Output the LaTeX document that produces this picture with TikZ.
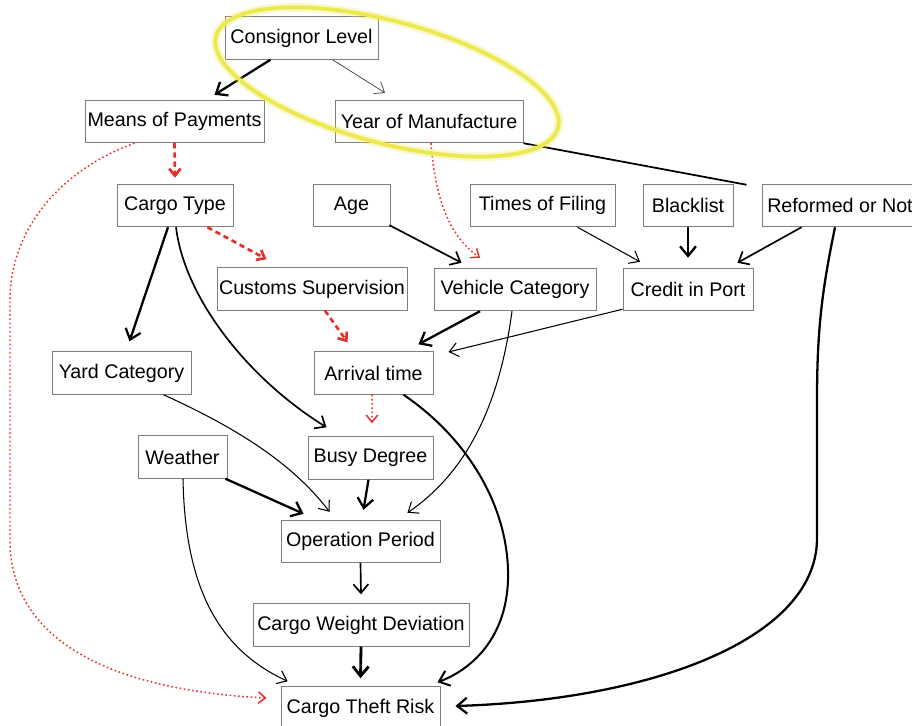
\documentclass[tikz,border=0pt]{standalone}
\usepackage{fontspec}
\setmainfont{Liberation Sans}
\usetikzlibrary{arrows.meta,calc}
\definecolor{boxline}{RGB}{125,125,125}
\definecolor{hotred}{RGB}{232,45,40}
\definecolor{marker}{RGB}{236,232,80}
\begin{document}
\begin{tikzpicture}[x=0.02cm,y=-0.02cm,
  box/.style={draw=boxline,line width=0.55pt,fill=white,rectangle,minimum height=0.85cm,
    inner xsep=1pt,inner ysep=0pt,font=\fontsize{11.2}{13}\selectfont},
  heavy/.style={line width=1.3pt,-{Straight Barb[length=5.5pt,width=9pt]}},
  medium/.style={line width=0.95pt,-{Straight Barb[length=5pt,width=8.5pt]}},
  light/.style={line width=0.6pt,-{Straight Barb[length=5pt,width=8pt]}},
  faint/.style={line width=0.45pt,draw=black!70,-{Straight Barb[length=5pt,width=8pt]}},
  reddash/.style={hotred,line width=1.5pt,dash pattern=on 3pt off 2.2pt,-{Straight Barb[length=4pt,width=6.5pt]}},
  reddot/.style={hotred,line width=0.85pt,dash pattern=on 0.9pt off 1.5pt,-{Straight Barb[length=4pt,width=6.5pt]}},
]
\useasboundingbox (0,0) rectangle (912,726);
\clip (0,0) rectangle (912,726);
\fill[white] (0,0) rectangle (912,726);

% variables
\node[box, minimum width=3.06cm] (cons)    at (301.5,38)   {Consignor Level};
\node[box, minimum width=3.58cm] (mop)     at (174.5,121.5){Means of Payments};
\node[box, minimum width=3.76cm] (yom)     at (429,121.5)  {Year of Manufacture};
\node[box, minimum width=2.32cm] (ctype)   at (175,205.5)  {Cargo Type};
\node[box, minimum width=1.54cm] (age)     at (351.5,205.5){Age};
\node[box, minimum width=2.90cm] (tof)     at (542.5,205.5){Times of Filing};
\node[box, minimum width=1.80cm] (black)   at (688,205.5)  {Blacklist};
\node[box, minimum width=3.12cm] (reform)  at (840,205.5)  {Reformed or Not};
\node[box, minimum width=3.24cm] (vcat)    at (515,289.5)  {Vehicle Category};
\node[box, minimum width=2.60cm] (credit)  at (688,289.5)  {Credit in Port};
\node[box, minimum width=3.80cm] (customs) at (312,289)    {Customs Supervision};
\node[box, minimum width=2.78cm] (yard)    at (121.5,373)  {Yard Category};
\node[box, minimum width=2.38cm] (arrival) at (373.5,373)  {Arrival time};
\node[box, minimum width=2.50cm] (busy)    at (370.5,458)  {Busy Degree};
\node[box, minimum width=1.78cm] (weather) at (182.5,457)  {Weather};
\node[box, minimum width=3.18cm] (oper)    at (360.5,541.5){Operation Period};
\node[box, minimum width=4.32cm] (cwd)     at (361,625)    {Cargo Weight Deviation};
\node[box, minimum width=3.18cm] (ctr)     at (360.5,708)  {Cargo Theft Risk};

\coordinate (refend) at ($(reform.north west)+(-15,1)$);

% dependencies
\draw[heavy] ($(cons.south)+(-31,0)$) -- ($(mop.north)+(40,-5)$);
\draw[faint] ($(cons.south)+(31,0)$) -- ($(yom.north)+(-44,-7)$);
\draw[reddash] (mop.south) -- ($(ctype.north)+(0,-6)$);
\draw[reddot] ($(mop.south)+(-40,0)$) .. controls (60,170) and (10,230) .. (10,300)
  -- (10,540) .. controls (10,640) and (110,690) .. ($(ctr.west)+(-14,-10)$);
\draw[reddot] ($(yom.south)+(2,0)$) .. controls (436,210) and (455,240) .. ($(vcat.north)+(-35,-10)$);
\draw[line width=1pt] (yom.south east) -- (refend);
\draw[medium] ($(age.south east)+(-1,-2)$) -- ($(vcat.north west)+(28,-5)$);
\draw[light] ($(tof.south)+(35,0)$) -- ($(credit.north)+(-48,-6)$);
\draw[heavy] (black.south) -- ($(credit.north)+(0,-10)$);
\draw[medium] ($(reform.south west)+(40,0)$) -- ($(credit.north east)+(-16,-5)$);
\draw[heavy] ($(reform.south)+(-5,0)$) .. controls (822,290) and (817,330) .. (817,400)
  -- (817,540) .. controls (815,640) and (650,700) .. ($(ctr.east)+(15,-2)$);
\draw[reddash] ($(ctype.south east)+(-26,0)$) -- ($(customs.north west)+(50,-8)$);
\draw[heavy] ($(ctype.south)+(-7,0)$) -- ($(yard.north)+(8,-10)$);
\draw[medium] ($(ctype.south)+(1,0)$) .. controls (185,300) and (250,380) .. ($(busy.north west)+(19,-9)$);
\draw[reddash] ($(customs.south)+(13,0)$) -- ($(arrival.north west)+(34,-9)$);
\draw[heavy] ($(vcat.south)+(-35,0)$) -- ($(arrival.north east)+(-15,-7)$);
\draw[light] ($(vcat.south)+(-3,0)$) .. controls (500,400) and (470,470) .. ($(oper.north east)+(-33,-7)$);
\draw[light] ($(credit.south west)+(0,-2)$) -- ($(arrival.east)+(15,-21)$);
\draw[reddot] ($(arrival.south)+(-1.5,0)$) -- ($(busy.north)+(1.5,-13)$);
\draw[heavy, line width=1.15pt] ($(arrival.south east)+(-30,0)$) .. controls (470,440) and (510,510) .. (508,580)
  .. controls (506,640) and (470,670) .. ($(ctr.north east)+(-3,-4)$);
\draw[light] ($(yard.south east)+(-28,0)$) .. controls (230,425) and (290,460) .. ($(oper.north west)+(49,-8)$);
\draw[heavy] ($(weather.south east)+(-2,0)$) -- ($(oper.north west)+(23,-6)$);
\draw[light] ($(weather.south)+(0.5,0)$) .. controls (185,590) and (220,650) .. ($(ctr.north west)+(7,-5)$);
\draw[heavy] ($(busy.south)+(-2,0)$) -- ($(oper.north)+(3,-10)$);
\draw[medium] (oper.south) -- ($(cwd.north)+(0,-9)$);
\draw[heavy, line width=1.6pt] (cwd.south) -- ($(ctr.north)+(0,-8)$);

% highlight ring
\draw[marker, line width=5pt, opacity=0.3, rotate around={-15:(387,82)}] (387,82) ellipse [x radius=177, y radius=61];
\draw[marker, line width=2.2pt, rotate around={-15:(387,82)}] (387,82) ellipse [x radius=177, y radius=61];
\end{tikzpicture}
\end{document}
